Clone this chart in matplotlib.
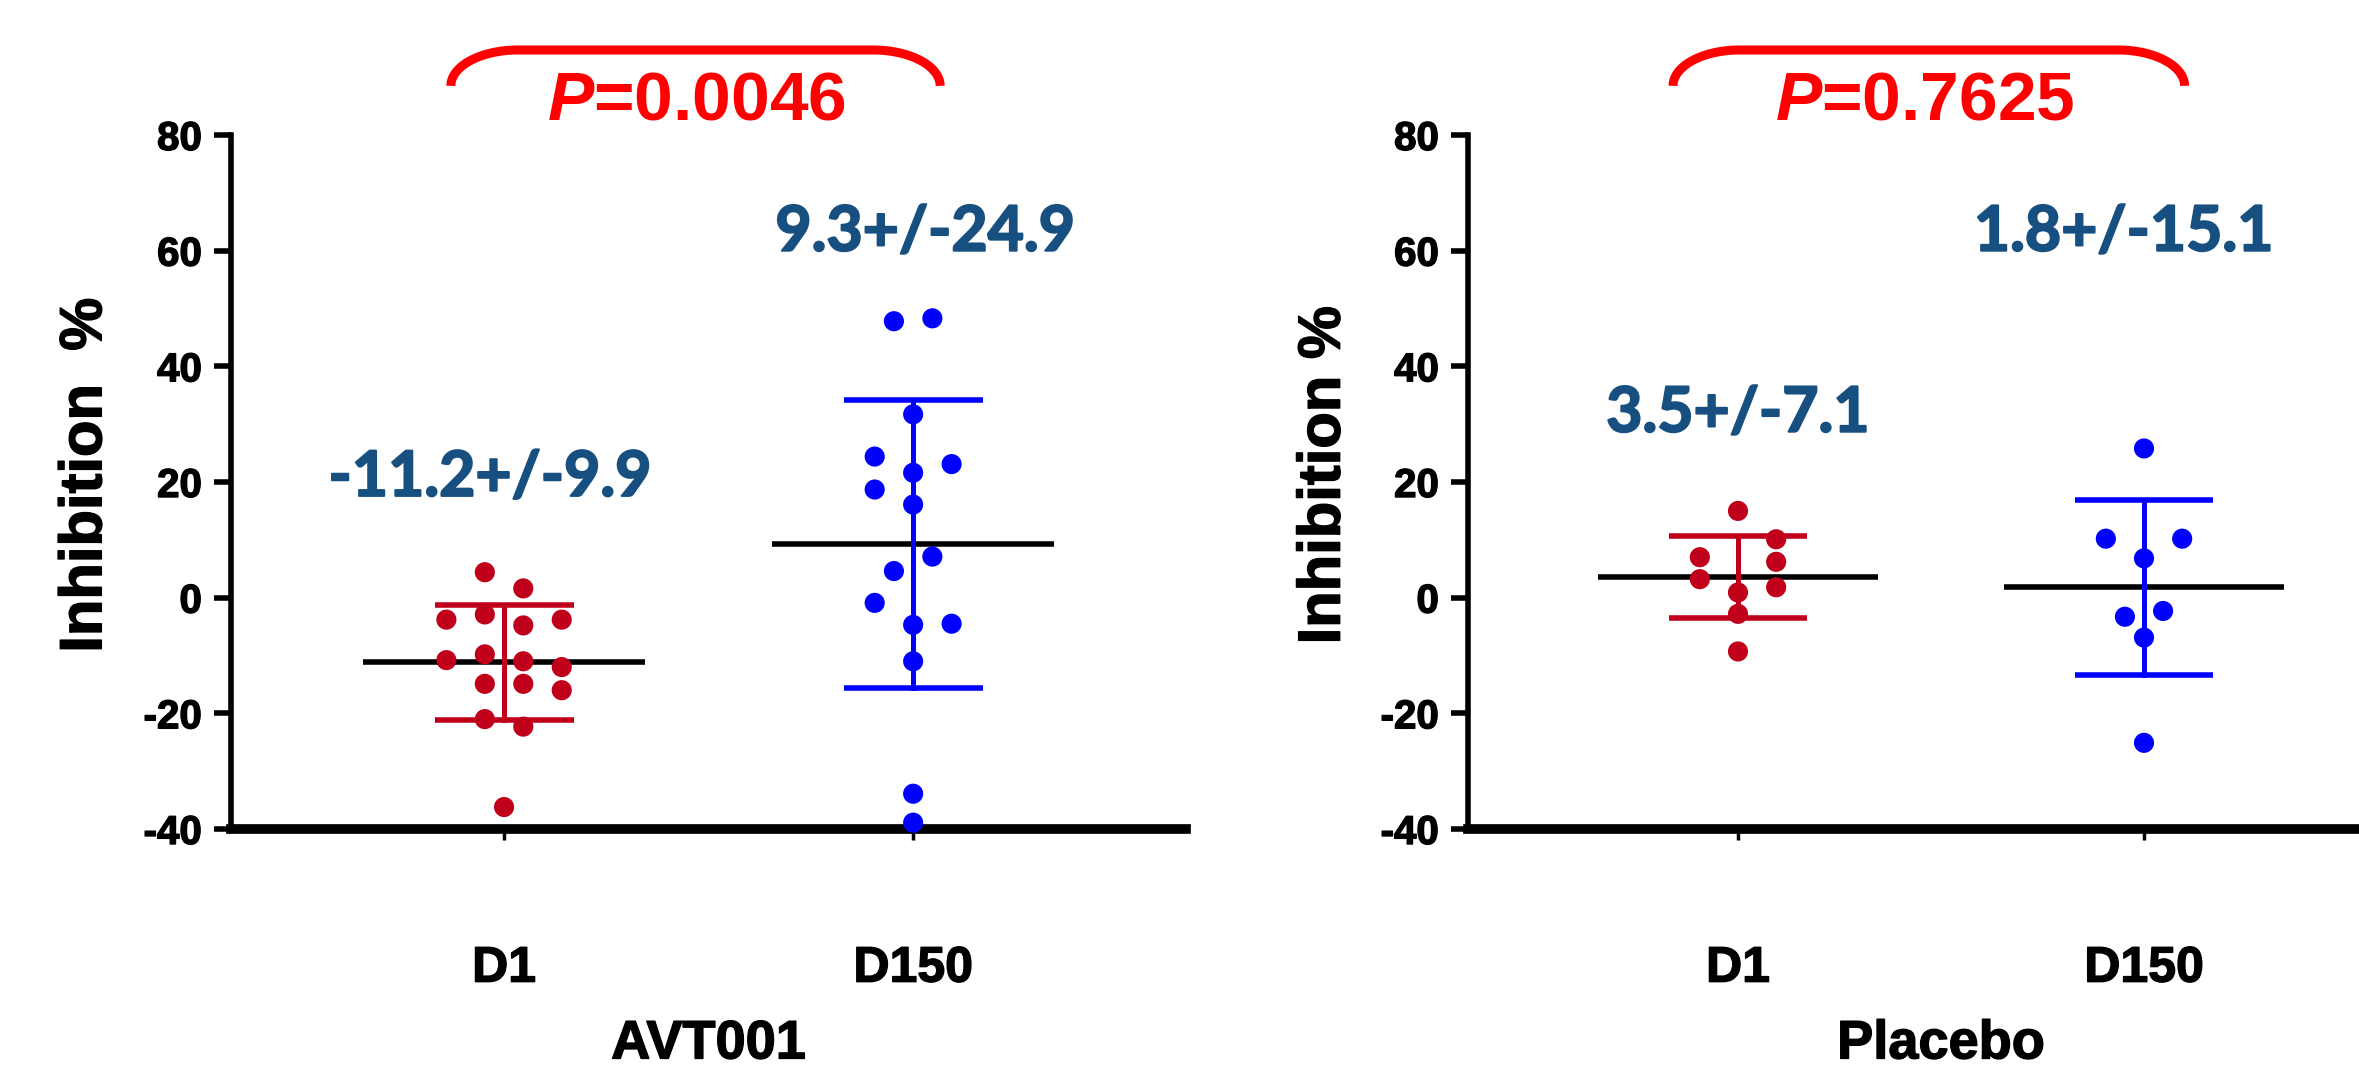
"""
Scatter plots of inhibition % at D1 and D150 for AVT001 and Placebo groups
"""

###############
# - IMPORTS - #
###############

import numpy as np
import matplotlib.pyplot as plt
import matplotlib.patheffects as pe


############
# - DATA - #
############

days = ["D1", "D150"]

# AVT001 group
avt_d1 = [4.4, 1.6, -3.8, -2.9, -4.8, -3.8, -10.8, -9.8, -11.0, -12.0,
          -14.9, -14.9, -16.0, -21.0, -22.3, -36.2]
avt_d1_slot = [-1, 1, -3, -1, 1, 3, -3, -1, 1, 3, -1, 1, 3, -1, 1, 0]
avt_d150 = [47.8, 48.3, 31.7, 24.4, 23.1, 21.6, 18.7, 16.1, 7.1, 4.6,
            -0.9, -4.7, -4.5, -11.0, -33.9, -38.9]
avt_d150_slot = [-1, 1, 0, -2, 2, 0, -2, 0, 1, -1, -2, 0, 2, 0, 0, 0]
avt_mean = [-11.2, 9.3]
avt_sd = [9.9, 24.9]

# Placebo group
plc_d1 = [15.0, 10.1, 7.0, 6.2, 3.2, 1.8, 0.9, -2.8, -9.3]
plc_d1_slot = [0, 2, -2, 2, -2, 2, 0, 0, 0]
plc_d150 = [25.8, 10.2, 10.2, 6.8, -2.3, -3.3, -6.9, -25.1]
plc_d150_slot = [0, -2, 2, 0, 1, -1, 0, 0]
plc_mean = [3.5, 1.8]
plc_sd = [7.1, 15.1]

p_values = ["0.0046", "0.7625"]
y_ticks = [-40, -20, 0, 20, 40, 60, 80]


###############
# - STYLING - #
###############

plt.rcParams["font.family"] = ["Liberation Sans", "DejaVu Sans"]
plt.rcParams["mathtext.fontset"] = "custom"
plt.rcParams["mathtext.it"] = "Liberation Sans:italic:bold"
plt.rcParams["mathtext.rm"] = "Liberation Sans:bold"

RED = "#C0001A"
BLUE = "#0000FF"
TEXT_BLUE = "#175080"
SLOT = 0.047
HEAVY = [pe.withStroke(linewidth=1.0, foreground="black")]


#################
# - FUNCTIONS - #
#################


def draw_panel(ax, d1, d1_slot, d150, d150_slot, means, sds, group, ylab, xlim):
    """Draw one group panel: points, mean line and SD error bars"""
    for i, (vals, slots, col) in enumerate(
        [(d1, d1_slot, RED), (d150, d150_slot, BLUE)]
    ):
        x0 = i + 1
        # mean line
        ax.plot([x0 - 0.345, x0 + 0.345], [means[i], means[i]], color="black",
                lw=4.0, solid_capstyle="butt", zorder=2)
        # SD bar
        lo, hi = means[i] - sds[i], means[i] + sds[i]
        ax.plot([x0, x0], [lo, hi], color=col, lw=3.6, zorder=3)
        ax.plot([x0 - 0.17, x0 + 0.17], [hi, hi], color=col, lw=4.0,
                solid_capstyle="butt", zorder=3)
        ax.plot([x0 - 0.17, x0 + 0.17], [lo, lo], color=col, lw=4.0,
                solid_capstyle="butt", zorder=3)
        # points
        xs = x0 + np.array(slots) * SLOT
        ax.scatter(xs, vals, s=210, color=col, edgecolors="none", zorder=4,
                   clip_on=False)

    ax.set_xlim(*xlim)
    ax.set_ylim(-40, 80)
    ax.set_yticks(y_ticks)
    ax.set_xticks([1, 2])
    ax.set_xticklabels(days, fontsize=36, fontweight="bold")
    ax.set_yticklabels([str(t) for t in y_ticks], fontsize=29, fontweight="bold")
    for lab in ax.get_yticklabels() + ax.get_xticklabels():
        lab.set_path_effects(HEAVY)
    ax.tick_params(axis="y", direction="out", length=12, width=4, pad=9)
    ax.tick_params(axis="x", direction="out", length=8, width=2.5, pad=76)
    ax.set_xlabel(group, fontsize=39, fontweight="bold", labelpad=20)
    ax.xaxis.label.set_path_effects(HEAVY)
    ax.text(-0.152, 0.51, ylab, rotation=90, ha="center", va="center",
            fontsize=43, fontweight="bold", transform=ax.transAxes,
            path_effects=HEAVY)

    for side in ["top", "right"]:
        ax.spines[side].set_visible(False)
    ax.spines["left"].set_linewidth(4)
    ax.spines["bottom"].set_linewidth(7)


def draw_bracket(ax, xl, xr, pval, x_text):
    """Red rounded bracket with the P value under it"""
    rx, ry = 0.164, 6.2
    y_end, y_top = 88.5, 94.7
    t = np.linspace(0, np.pi / 2, 40)
    left_x = xl + rx - rx * np.cos(t)
    left_y = y_end + ry * np.sin(t)
    right_x = xr - rx + rx * np.cos(t[::-1])
    right_y = y_end + ry * np.sin(t[::-1])
    ax.plot(np.concatenate([left_x, right_x]), np.concatenate([left_y, right_y]),
            color="red", lw=6.5, clip_on=False, solid_capstyle="butt")
    ax.text(x_text, 82.6, r"$P$=" + pval, color="red", fontsize=50,
            fontweight="bold", ha="center", va="baseline", clip_on=False)


############
# - MAIN - #
############

fig = plt.figure(figsize=(23.59, 10.72), dpi=100)
ax1 = fig.add_axes([231 / 2359, 1 - 829 / 1072, 955 / 2359, 694 / 1072])
ax2 = fig.add_axes([1468 / 2359, 1 - 829 / 1072, 946 / 2359, 694 / 1072])

draw_panel(ax1, avt_d1, avt_d1_slot, avt_d150, avt_d150_slot, avt_mean, avt_sd,
           "AVT001", "Inhibition  %", (0.3325, 2.667))
draw_panel(ax2, plc_d1, plc_d1_slot, plc_d150, plc_d150_slot, plc_mean, plc_sd,
           "Placebo", "Inhibition %", (0.335, 2.665))

draw_bracket(ax1, 0.87, 2.066, p_values[0], 1.47)
draw_bracket(ax2, 0.84, 2.10, p_values[1], 1.46)

# mean +/- SD labels
stat_font = dict(fontsize=45, fontweight="bold", color=TEXT_BLUE,
                 family=["Lato", "DejaVu Sans"], ha="center", va="baseline",
                 path_effects=[pe.withStroke(linewidth=1.5, foreground=TEXT_BLUE)])
ax1.text(0.966, 17.6, f"{avt_mean[0]}+/-{avt_sd[0]}", **stat_font)
ax1.text(2.03, 60.0, f"{avt_mean[1]}+/-{avt_sd[1]}", **stat_font)
ax2.text(1.0, 28.7, f"{plc_mean[0]}+/-{plc_sd[0]}", **stat_font)
ax2.text(1.95, 60.0, f"{plc_mean[1]}+/-{plc_sd[1]}", **stat_font)

fig.savefig("out.png", dpi=100)
